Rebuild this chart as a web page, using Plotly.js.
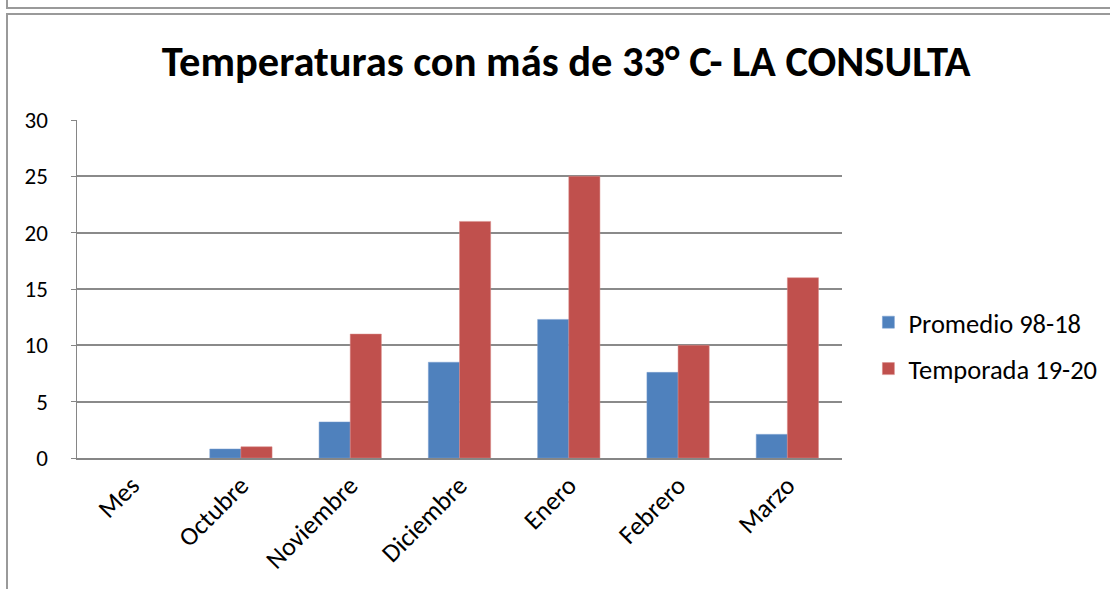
<!DOCTYPE html>
<html>
<head>
<meta charset="utf-8">
<script src="https://cdn.plot.ly/plotly-3.0.1.min.js"></script>
<style>
html,body{margin:0;padding:0;background:#fff;overflow:hidden;}
#wrap{position:relative;width:1110px;height:589px;}
.box{position:absolute;border:2px solid #9a9a9a;box-sizing:border-box;}
#chart{position:absolute;left:0;top:0;width:1110px;height:589px;}
</style>
</head>
<body>
<div id="wrap">
  <div class="box" style="left:6px;top:-20px;width:1130px;height:29px;"></div>
  <div class="box" style="left:6px;top:13px;width:1130px;height:600px;"></div>
  <div id="chart"></div>
</div>
<script>
const categories = ["Mes", "Octubre", "Noviembre", "Diciembre", "Enero", "Febrero", "Marzo"];
const promedio = [null, 0.8, 3.2, 8.5, 12.3, 7.6, 2.1];
const temporada = [null, 1, 11, 21, 25, 10, 16];
const seriesNames = ["Promedio 98-18", "Temporada 19-20"];
const yTicks = [0, 5, 10, 15, 20, 25, 30];

const font = "Carlito, 'Open Sans', 'Noto Sans', sans-serif";

const data = [
  {type: "bar", x: categories, y: promedio, name: seriesNames[0], legendgroup: "a",
   marker: {color: "#4F81BD", line: {color: "#7a9fd0", width: 0.5}}},
  {type: "bar", x: categories, y: temporada, name: seriesNames[1], legendgroup: "b",
   marker: {color: "#C0504D", line: {color: "#d88a88", width: 0.5}}}
];

const layout = {
  width: 1110, height: 589,
  paper_bgcolor: "rgba(0,0,0,0)", plot_bgcolor: "rgba(0,0,0,0)",
  margin: {l: 77, r: 268, t: 120, b: 131, autoexpand: false},
  font: {family: font, color: "#000"},
  title: {text: "<b>Temperaturas con más de 33° C- LA CONSULTA</b>",
          font: {family: font, size: 42.5, color: "#000"},
          x: 0.51, xanchor: "center", y: 0.896, yanchor: "middle"},
  barmode: "group", bargap: 0.43, bargroupgap: 0,
  showlegend: true,
  legend: {x: 1.0345, xanchor: "left", y: 0.333, yanchor: "middle",
           font: {family: font, size: 26.5, color: "#000"},
           traceorder: "grouped", tracegroupgap: 9, itemwidth: 30},
  xaxis: {type: "category", tickangle: -45, tickfont: {family: font, size: 26},
          showline: true, linecolor: "#868686", linewidth: 2, ticks: "", showgrid: false,
          automargin: false, fixedrange: true},
  yaxis: {range: [0, 30], tickvals: yTicks, ticktext: yTicks.map(String),
          tickfont: {family: font, size: 23}, showgrid: true, gridcolor: "#8a8a8a", gridwidth: 2,
          showline: true, linecolor: "#868686", linewidth: 1.5, ticks: "outside", ticklen: 5,
          tickcolor: "#868686", ticklabelstandoff: 18, zeroline: false, automargin: false,
          fixedrange: true}
};

Plotly.newPlot("chart", data, layout, {staticPlot: true});
</script>
</body>
</html>
